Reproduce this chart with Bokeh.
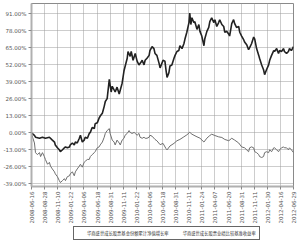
from math import pi
from bokeh.plotting import figure
from bokeh.layouts import column
from bokeh.models import FixedTicker, PrintfTickFormatter, Legend, LegendItem, Range1d
from bokeh.embed import file_html
from bokeh.resources import INLINE

# trading-day index since inception and cumulative return (%)
fund_day = [0, 11, 15, 30, 41, 52, 67, 78, 86, 89, 97, 104, 108, 116, 123, 127, 134, 142, 145, 153,
            160, 164, 171, 179, 183, 190, 197, 201, 209, 216, 220, 227, 235, 238, 246, 253, 257, 265, 272, 276,
            283, 291, 298, 302, 313, 320, 328, 339, 346, 358, 361, 369, 373, 380, 388, 395, 402, 410, 414, 421,
            425, 432, 440, 443, 451, 458, 462, 469, 477, 481, 492, 499, 503, 507, 514, 518, 525, 533, 537, 544,
            551, 555, 563, 570, 574, 581, 589, 592, 596, 600, 607, 611, 619, 626, 630, 637, 645, 648, 656, 663,
            667, 674, 682, 686, 693, 700, 704, 712, 719, 723, 730, 738, 741, 749, 756, 760, 767, 775, 779, 786,
            794, 797, 805, 812, 816, 823, 831, 835, 842, 850, 853, 861, 868, 872, 879, 887, 891, 898, 906, 909,
            917, 924, 928, 935, 943, 946, 954, 961, 965, 972, 980]
fund_ret = [0.0, -1.8, -3.3, -4.1, -3.3, -4.1, -3.3, -5.5, -7.0, -9.2, -11.4, -12.9, -14.4, -12.9, -11.4, -10.7, -11.4, -10.7, -9.2, -7.7,
            -9.2, -7.0, -7.7, -4.1, -1.8, -7.0, -5.5, -3.3, -4.1, -0.4, 0.4, 4.1, 3.3, 7.0, 7.7, 11.4, 12.9, 15.1, 20.3, 24.0,
            26.2, 40.9, 31.3, 35.7, 31.3, 35.0, 29.8, 38.0, 47.5, 57.1, 62.3, 58.6, 62.3, 55.6, 60.8, 54.9, 52.0, 54.2, 55.6, 52.0,
            55.6, 57.1, 59.3, 63.0, 66.0, 64.5, 60.8, 59.3, 53.4, 49.7, 55.6, 54.9, 48.3, 42.4, 46.1, 51.2, 52.0, 57.1, 59.3, 62.3,
            63.0, 66.7, 64.5, 68.2, 71.8, 77.0, 84.4, 91.7, 82.9, 88.1, 84.4, 85.1, 79.2, 82.9, 77.7, 74.1, 66.7, 71.8, 77.7, 80.7,
            85.1, 88.1, 84.4, 86.6, 81.4, 84.4, 86.6, 82.9, 81.4, 77.0, 77.7, 75.5, 74.1, 83.6, 86.6, 83.6, 80.7, 81.4, 77.0, 74.1,
            71.1, 69.6, 67.4, 63.7, 65.2, 68.2, 73.3, 71.8, 64.5, 59.3, 57.1, 52.0, 48.3, 44.6, 48.3, 52.0, 55.6, 59.3, 63.0, 62.3,
            64.5, 60.8, 63.0, 62.3, 64.5, 62.3, 60.8, 62.3, 64.5, 63.0, 66.0]

bench_day = [0, 4, 11, 15, 22, 30, 34, 41, 48, 52, 60, 67, 71, 78, 86, 89, 97, 104, 108, 116,
             123, 127, 134, 142, 145, 153, 160, 164, 171, 179, 183, 190, 197, 201, 209, 216, 220, 227, 235, 238,
             246, 253, 257, 265, 272, 276, 283, 291, 294, 302, 309, 313, 320, 328, 332, 339, 346, 350, 358, 365,
             369, 376, 384, 388, 395, 402, 406, 414, 421, 425, 432, 440, 443, 451, 462, 469, 481, 492, 503, 507,
             518, 533, 544, 555, 570, 581, 592, 600, 619, 630, 645, 656, 667, 674, 686, 700, 712, 723, 738, 749,
             760, 775, 786, 797, 812, 816, 823, 831, 835, 842, 850, 853, 861, 868, 872, 879, 887, 891, 898, 906,
             909, 917, 924, 928, 935, 943, 946, 954, 961, 965, 972, 980]
bench_ret = [0.0, -3.3, -7.7, -15.1, -16.6, -15.1, -18.1, -15.1, -18.1, -20.3, -24.0, -22.5, -25.4, -27.6, -29.8, -31.3, -33.5, -36.5, -38.0, -36.5,
             -35.0, -36.5, -33.5, -32.8, -31.3, -29.8, -32.8, -29.8, -27.6, -25.4, -24.0, -26.2, -22.5, -21.7, -20.3, -20.3, -18.1, -16.6, -15.1, -14.4,
             -11.4, -10.7, -9.2, -7.0, -3.3, -0.4, 1.8, 3.3, -0.4, -5.5, -7.0, -9.2, -5.5, -7.7, -9.2, -5.5, -4.1, -1.8, -0.4, 1.8,
             0.4, -0.4, 0.4, -0.4, -1.8, -0.4, -3.3, -4.1, -3.3, -4.1, -4.1, -3.3, -1.8, -2.5, -5.0, -6.0, -9.0, -8.0, -12.0, -13.0,
             -10.0, -8.0, -6.0, -5.0, -3.0, -1.5, 0.5, -1.0, -3.0, -4.0, -7.0, -4.0, -2.0, -1.0, -2.0, -3.0, -3.5, -5.0, -6.0, -4.1,
             -5.5, -7.7, -10.7, -11.4, -14.4, -11.4, -10.7, -11.4, -14.4, -15.1, -16.6, -18.1, -18.8, -18.1, -15.1, -14.4, -15.1, -12.9, -14.4, -11.4,
             -11.4, -12.9, -14.4, -12.9, -11.4, -10.7, -11.4, -11.4, -12.9, -11.4, -12.9, -15.1]

tick_days = [0, 49, 98, 147, 196, 245, 294, 343, 392, 441, 490, 539, 588, 637, 686, 735, 784, 833, 882, 931, 980]
tick_labels = ["2008-06-16", "2008-08-28", "2008-11-10", "2009-01-22", "2009-04-06", "2009-06-18", "2009-08-31",
               "2009-11-11", "2010-01-22", "2010-04-06", "2010-06-18", "2010-08-31", "2010-11-11", "2011-01-24",
               "2011-04-07", "2011-06-20", "2011-08-31", "2011-11-11", "2012-01-30", "2012-04-16", "2012-06-29"]
y_ticks = [-39, -26, -13, 0, 13, 26, 39, 52, 65, 78, 91]

series_names = ["华商盛世成长股票基金份额累计净值增长率", "华商盛世成长股票业绩比较基准收益率"]
series_colors = ["#222222", "#6e6e6e"]
series_widths = [1.6, 1.0]

p = figure(width=300, height=226, output_backend="svg", toolbar_location=None,
           x_range=Range1d(0, 980), y_range=Range1d(-41, 99),
           min_border_left=29, min_border_right=7, min_border_top=3, min_border_bottom=33,
           background_fill_color="white", border_fill_color="white")

p.line(fund_day, fund_ret, line_color=series_colors[0], line_width=series_widths[0])
p.line(bench_day, bench_ret, line_color=series_colors[1], line_width=series_widths[1])

p.outline_line_color = "#8a8a8a"
p.outline_line_width = 1

for ax in (p.xaxis[0], p.yaxis[0]):
    ax.axis_line_color = "#b0b0b0"
    ax.axis_line_width = 2
    ax.major_tick_line_color = "#888888"
    ax.major_tick_out = 3
    ax.major_tick_in = 0
    ax.minor_tick_line_color = None
    ax.major_label_text_font = "DejaVu Sans"
    ax.major_label_text_font_size = "5.5px"
    ax.major_label_text_color = "#555555"
    ax.major_label_standoff = 2

p.yaxis.ticker = FixedTicker(ticks=y_ticks)
p.yaxis.formatter = PrintfTickFormatter(format="%.2f%%")

p.xaxis.ticker = FixedTicker(ticks=tick_days)
p.xaxis.major_label_overrides = {d: s for d, s in zip(tick_days, tick_labels)}
p.xaxis.major_label_orientation = pi / 2

p.xgrid.ticker = FixedTicker(ticks=tick_days)
p.ygrid.ticker = FixedTicker(ticks=y_ticks)
for g in (p.xgrid[0], p.ygrid[0]):
    g.grid_line_color = "#9a9a9a"
    g.grid_line_dash = "1 1"
    g.grid_line_width = 1

# legend strip under the chart
lg = figure(width=300, height=17, output_backend="svg", toolbar_location=None,
            x_range=Range1d(0, 1), y_range=Range1d(0, 1),
            x_axis_location=None, y_axis_location=None,
            min_border_left=0, min_border_right=0, min_border_top=0, min_border_bottom=0,
            background_fill_color="white", border_fill_color="white")
lg.grid.visible = False
lg.outline_line_color = None
items = []
for name, c, w in zip(series_names, series_colors, series_widths):
    r = lg.line([], [], line_color=c, line_width=w)
    items.append(LegendItem(label=name, renderers=[r]))
legend = Legend(items=items, orientation="horizontal", location=(42, 3),
                label_text_font="Noto Sans CJK SC", label_text_font_size="4.3px",
                label_text_color="#333333", label_standoff=2,
                glyph_width=8, glyph_height=6, spacing=4, padding=3, margin=0,
                border_line_color="#666666", border_line_width=1, border_line_alpha=1,
                background_fill_color="white", background_fill_alpha=1,
                label_height=6)
lg.add_layout(legend, "center")

layout = column(p, lg, spacing=0)
open("out.html", "w").write(file_html(layout, INLINE))
